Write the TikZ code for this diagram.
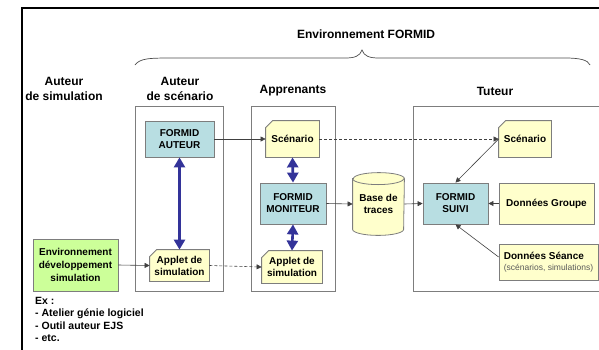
\documentclass[tikz,border=0pt]{standalone}
\usepackage{fontspec}
\setmainfont{Liberation Sans}
\usetikzlibrary{arrows.meta,backgrounds}
\definecolor{bluebox}{RGB}{184,222,226}
\definecolor{yel}{RGB}{255,255,204}
\definecolor{grn}{RGB}{204,255,153}
\definecolor{navy}{RGB}{51,51,153}
\definecolor{edge}{RGB}{125,125,125}
\definecolor{subgray}{RGB}{90,90,90}
\newcommand\foldshape[1]{%
  \begin{pgfonlayer}{background}
    \filldraw[draw=edge, fill=yel, line width=0.8pt]
      ([xshift=7pt]#1.north west) -- (#1.north east) -- (#1.south east)
      -- (#1.south west) -- ([yshift=-7pt]#1.north west) -- cycle;
  \end{pgfonlayer}}
\begin{document}
\begin{tikzpicture}[x=1pt,y=-1pt,
  group/.style={draw=edge, line width=0.8pt},
  head/.style={font=\fontsize{12}{15}\selectfont\bfseries, align=center, inner sep=0pt},
  box/.style={draw=edge, line width=0.8pt, font=\fontsize{10}{12}\selectfont\bfseries,
    align=center, inner sep=0pt},
  bluenode/.style={box, fill=bluebox},
  yelnode/.style={box, fill=yel},
  foldnode/.style={box, draw=none},
  conn/.style={draw=black!75, line width=0.6pt, -{Triangle[length=5pt,width=5pt]}},
  dconn/.style={conn, dash pattern=on 3pt off 2pt},
  bidir/.style={draw=navy, line width=2.6pt,
    {Triangle[length=10pt,width=11pt]}-{Triangle[length=10pt,width=11pt]}},
]
\useasboundingbox (0,0) rectangle (599,349);
\clip (0,0) rectangle (599,349);

% outer frame
\draw[black, line width=1.2pt] (22,8) rectangle (620,370);

% title and brace
\node[head] (title) at (366,34) {Environnement FORMID};
\draw[black!70, line width=0.7pt] (135,65) .. controls (140,58) and (150,58) .. (175,58)
  -- (345,58) .. controls (355,58) and (360,56) .. (362,50)
  .. controls (364,56) and (369,58) .. (379,58) -- (565,58)
  .. controls (580,58) and (588,60) .. (590,65);

% headings
\node[head] (hsim) at (64,89) {Auteur\\de simulation};
\node[head] (hsc) at (180,89) {Auteur\\de scénario};
\node[head] (happ) at (293,91) {Apprenants};
\node[head] (htut) at (495,91) {Tuteur};

% group boxes
\draw[group] (135,106) rectangle (223,291);
\draw[group] (251,106) rectangle (335,291);
\draw[group] (413,106) rectangle (620,291);

% nodes
\node[bluenode, minimum width=69pt, minimum height=36pt] (au) at (179.5,139) {FORMID\\AUTEUR};
\node[foldnode, minimum width=53pt, minimum height=36pt] (sa) at (292.5,139) {Scénario};
\foldshape{sa}
\node[bluenode, minimum width=66pt, minimum height=41pt] (mo) at (293,203.5) {FORMID\\MONITEUR};
\node[foldnode, minimum width=60pt, minimum height=32pt] (aa) at (292,267) {Applet de\\simulation};
\foldshape{aa}
\node[foldnode, minimum width=59pt, minimum height=31pt] (as) at (179.5,265.5) {Applet de\\simulation};
\foldshape{as}
\node[box, fill=grn, minimum width=85pt, minimum height=52pt,
  font=\fontsize{10}{13}\selectfont\bfseries] (env) at (75.5,265) {Environnement\\développement\\simulation};
\node[anchor=north west, inner sep=0pt, align=left,
  font=\fontsize{10.5}{12.5}\selectfont\bfseries] (ex) at (35,297)
  {Ex :\\- Atelier génie logiciel\\- Outil auteur EJS\\- etc.};

% database cylinder
\node[foldnode, minimum width=51pt, minimum height=62pt] (db) at (378.5,204) {Base de\\traces};
\begin{pgfonlayer}{background}
  \filldraw[draw=edge, fill=yel, line width=0.8pt]
    ([yshift=-6pt]db.north west) -- ([yshift=6pt]db.south west)
    arc[start angle=180, end angle=360, x radius=25.5pt, y radius=6pt]
    -- ([yshift=-6pt]db.north east)
    arc[start angle=0, end angle=180, x radius=25.5pt, y radius=6pt] -- cycle;
  \draw[draw=edge, line width=0.8pt] ([yshift=-6pt]db.north west)
    arc[start angle=180, end angle=360, x radius=25.5pt, y radius=6pt];
\end{pgfonlayer}

\node[bluenode, minimum width=65pt, minimum height=41pt] (su) at (455.5,203.5) {FORMID\\SUIVI};
\node[foldnode, minimum width=52pt, minimum height=36pt] (st) at (525,139) {Scénario};
\foldshape{st}
\node[yelnode, minimum width=95pt, minimum height=41pt] (dg) at (546.5,203.5) {Données Groupe};
\node[yelnode, minimum width=99pt, minimum height=36pt, align=left] (ds) at (548.5,262)
  {Données Séance\\[-1.5pt]{\fontsize{8.5}{10}\selectfont\mdseries\color{subgray}(scénarios, simulations)}};

% connectors
\draw[conn] (au.east) -- (sa.west);
\draw[dconn] (sa.east) -- (st.west);
\draw[bidir] (au.south) -- (as.north);
\draw[bidir] (sa.south) -- (mo.north);
\draw[bidir] (mo.south) -- (aa.north);
\draw[conn] (env.east) -- (as.west);
\draw[dconn] (as.east) -- (aa.west);
\draw[conn] (mo.east) -- (db.west);
\draw[conn] (db.east) -- (su.west);
\draw[conn] (st.west) -- (su.north);
\draw[conn] (dg.west) -- (su.east);
\draw[conn] ([yshift=5pt]ds.west) -- (su.south);
\end{tikzpicture}
\end{document}
